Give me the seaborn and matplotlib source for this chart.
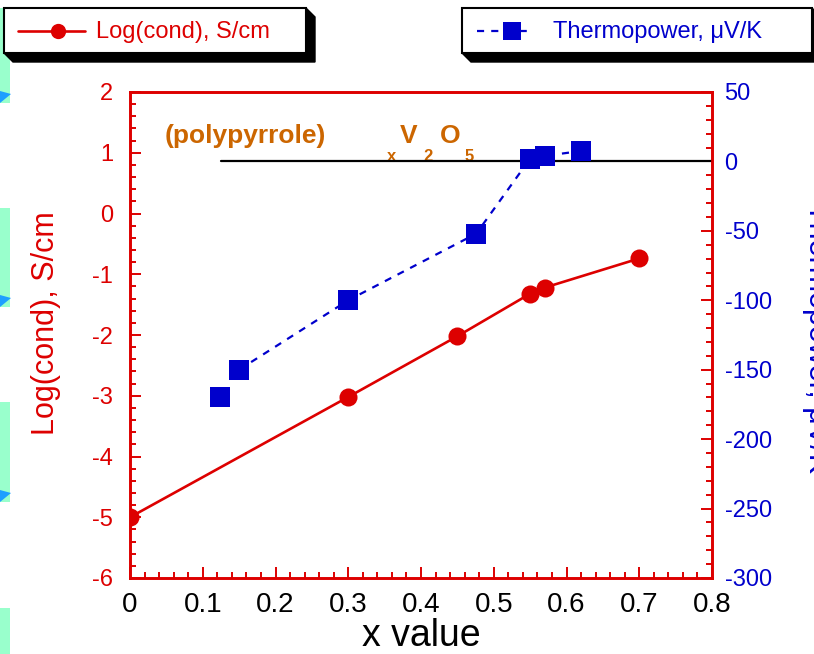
import numpy as np
import matplotlib
matplotlib.use("Agg")
import matplotlib.pyplot as plt
from matplotlib.lines import Line2D
from matplotlib.patches import Polygon, Rectangle
from matplotlib.ticker import MultipleLocator, FixedLocator
import pandas as pd
import seaborn as sns

# Log(cond) vs x (left axis)
x_cond = [0.0, 0.30, 0.45, 0.55, 0.57, 0.70]
log_cond = [-5.0, -3.02, -2.02, -1.32, -1.22, -0.74]

# Thermopower vs x (right axis)
x_tp = [0.124, 0.15, 0.30, 0.476, 0.55, 0.57, 0.62]
thermopower = [-170, -150, -100, -52, 2, 4, 7.5]

x_ticks = [0, 0.1, 0.2, 0.3, 0.4, 0.5, 0.6, 0.7, 0.8]
x_labels = ["0", "0.1", "0.2", "0.3", "0.4", "0.5", "0.6", "0.7", "0.8"]
left_ticks = [-6, -5, -4, -3, -2, -1, 0, 1, 2]
right_ticks = [-300, -250, -200, -150, -100, -50, 0, 50]

RED = "#DD0000"
BLUE = "#0000CC"
ORANGE = "#CC6600"

sns.set_theme(style="white")
plt.rcParams["font.family"] = ["Liberation Sans", "DejaVu Sans"]
plt.rcParams["axes.unicode_minus"] = False

W, H = 814, 654
fig = plt.figure(figsize=(W / 100, H / 100), dpi=100)


def fx(px):
    return px / W


def fy(py):
    return 1 - py / H


# slide background bits on the left edge
for top, bot in [(8, 103), (208, 307), (402, 502), (608, 660)]:
    fig.add_artist(Rectangle((fx(0), fy(bot)), fx(10), fy(top) - fy(bot),
                             transform=fig.transFigure, facecolor="#99FFCC",
                             edgecolor="none", zorder=0))
    if bot < 600:
        fig.add_artist(Polygon([(fx(0), fy(bot - 12)), (fx(11), fy(bot - 9)), (fx(0), fy(bot))],
                               closed=True, transform=fig.transFigure,
                               facecolor="#1E9FFF", edgecolor="none", zorder=1))

ax = fig.add_axes([fx(130), fy(578), fx(712) - fx(130), fy(92) - fy(578)])
ax2 = ax.twinx()

cond_df = pd.DataFrame({"x": x_cond, "y": log_cond})
tp_df = pd.DataFrame({"x": x_tp, "y": thermopower})

sns.lineplot(data=cond_df, x="x", y="y", ax=ax, color=RED, lw=1.9,
             marker="o", markersize=13, markeredgewidth=0, sort=False,
             estimator=None, zorder=3)

ax2.axhline(0, xmin=(x_tp[0] + 0.0005) / 0.8, xmax=1, color="black", lw=1.6, zorder=1)
sns.lineplot(data=tp_df.iloc[1:], x="x", y="y", ax=ax2, color=BLUE, lw=1.6,
             sort=False, estimator=None, dashes=False, zorder=2)
ax2.lines[-1].set_dashes([3.2, 3.2])
sns.scatterplot(data=tp_df, x="x", y="y", ax=ax2, color=BLUE, marker="s",
                s=200, linewidth=0, zorder=3)

ax.set_xlim(0, 0.8)
ax.set_ylim(-6, 2)
ax2.set_ylim(-300, 50)

ax.xaxis.set_major_locator(FixedLocator(x_ticks))
ax.set_xticklabels(x_labels)
ax.xaxis.set_minor_locator(MultipleLocator(0.02))
ax.yaxis.set_major_locator(FixedLocator(left_ticks))
ax.set_yticklabels([str(v) for v in left_ticks])
ax.yaxis.set_minor_locator(MultipleLocator(0.2))
ax2.yaxis.set_major_locator(FixedLocator(right_ticks))
ax2.set_yticklabels([str(v) for v in right_ticks])
ax2.yaxis.set_minor_locator(MultipleLocator(10))

for a in (ax, ax2):
    for sp in a.spines.values():
        sp.set_color(RED)
        sp.set_linewidth(1.9)
        sp.set_visible(True)

ax.tick_params(axis="x", which="both", direction="in", color=RED, width=1.4,
               top=False, bottom=True, labelsize=20, labelcolor="black", pad=10)
ax.tick_params(axis="x", which="major", length=8)
ax.tick_params(axis="x", which="minor", length=4)
ax.tick_params(axis="y", which="both", direction="in", color=RED, width=1.4,
               left=True, right=False, labelsize=17, labelcolor=RED, pad=12)
ax.tick_params(axis="y", which="major", length=8)
ax.tick_params(axis="y", which="minor", length=4)
ax2.tick_params(axis="y", which="both", direction="in", color=RED, width=1.4,
                right=True, left=False, labelsize=17, labelcolor=BLUE, pad=9)
ax2.tick_params(axis="y", which="major", length=8)
ax2.tick_params(axis="y", which="minor", length=4)

ax.set_xlabel("x value", fontsize=27, color="black", labelpad=0)
ax.set_ylabel("Log(cond), S/cm", fontsize=22, color=RED)
ax.yaxis.label.set_va("center")
ax.yaxis.set_label_coords((46 - 130) / 582, (578 - 323) / 486)
ax2.set_ylabel("")
# right axis title runs off the right edge, as in the original slide
fig.text(fx(802), fy(338), "Thermopower, \u03bcV/K", rotation=270, fontsize=22,
         color=BLUE, ha="left", va="center")

# sample label
tk = dict(color=ORANGE, fontweight="bold", ha="left", va="baseline")
ax.text(0.048, 1.16, "(polypyrrole)", fontsize=19, **tk)
ax.text(0.371, 1.16, "V", fontsize=19, **tk)
ax.text(0.426, 1.16, "O", fontsize=19, **tk)
ax.text(0.353, 0.86, "x", fontsize=12, **tk)
ax.text(0.403, 0.86, "2", fontsize=12, **tk)
ax.text(0.4605, 0.86, "5", fontsize=12, **tk)


# legend boxes with 3D shadow
def legend_box(x0, y0, x1, y1, d=9):
    pts = [(x0, y0), (x1, y0), (x1 + d, y0 + d), (x1 + d, y1 + d), (x0 + d, y1 + d), (x0, y1)]
    fig.add_artist(Polygon([(fx(a), fy(b)) for a, b in pts], closed=True,
                           transform=fig.transFigure, facecolor="black",
                           edgecolor="black", zorder=5))
    fig.add_artist(Rectangle((fx(x0), fy(y1)), fx(x1) - fx(x0), fy(y0) - fy(y1),
                             transform=fig.transFigure, facecolor="white",
                             edgecolor="black", lw=1.5, zorder=6))


legend_box(4, 8, 306, 53)
fig.add_artist(Line2D([fx(18), fx(85)], [fy(31), fy(31)], transform=fig.transFigure,
                      color=RED, lw=1.9, zorder=7))
fig.add_artist(Line2D([fx(58)], [fy(31)], transform=fig.transFigure, color=RED,
                      marker="o", markersize=11, markeredgewidth=0, zorder=8))
fig.text(fx(96), fy(32), "Log(cond), S/cm", fontsize=17, color=RED,
         ha="left", va="center", zorder=8)

legend_box(462, 8, 812, 53)
fig.add_artist(Line2D([fx(477), fx(532)], [fy(31), fy(31)], transform=fig.transFigure,
                      color=BLUE, lw=1.6, dashes=[3.2, 3.2], zorder=7))
fig.add_artist(Line2D([fx(512)], [fy(31)], transform=fig.transFigure, color=BLUE,
                      marker="s", markersize=13, markeredgewidth=0, zorder=8))
fig.text(fx(553), fy(32), "Thermopower, \u03bcV/K", fontsize=17, color=BLUE,
         ha="left", va="center", zorder=8)

fig.savefig("out.png", dpi=100)
